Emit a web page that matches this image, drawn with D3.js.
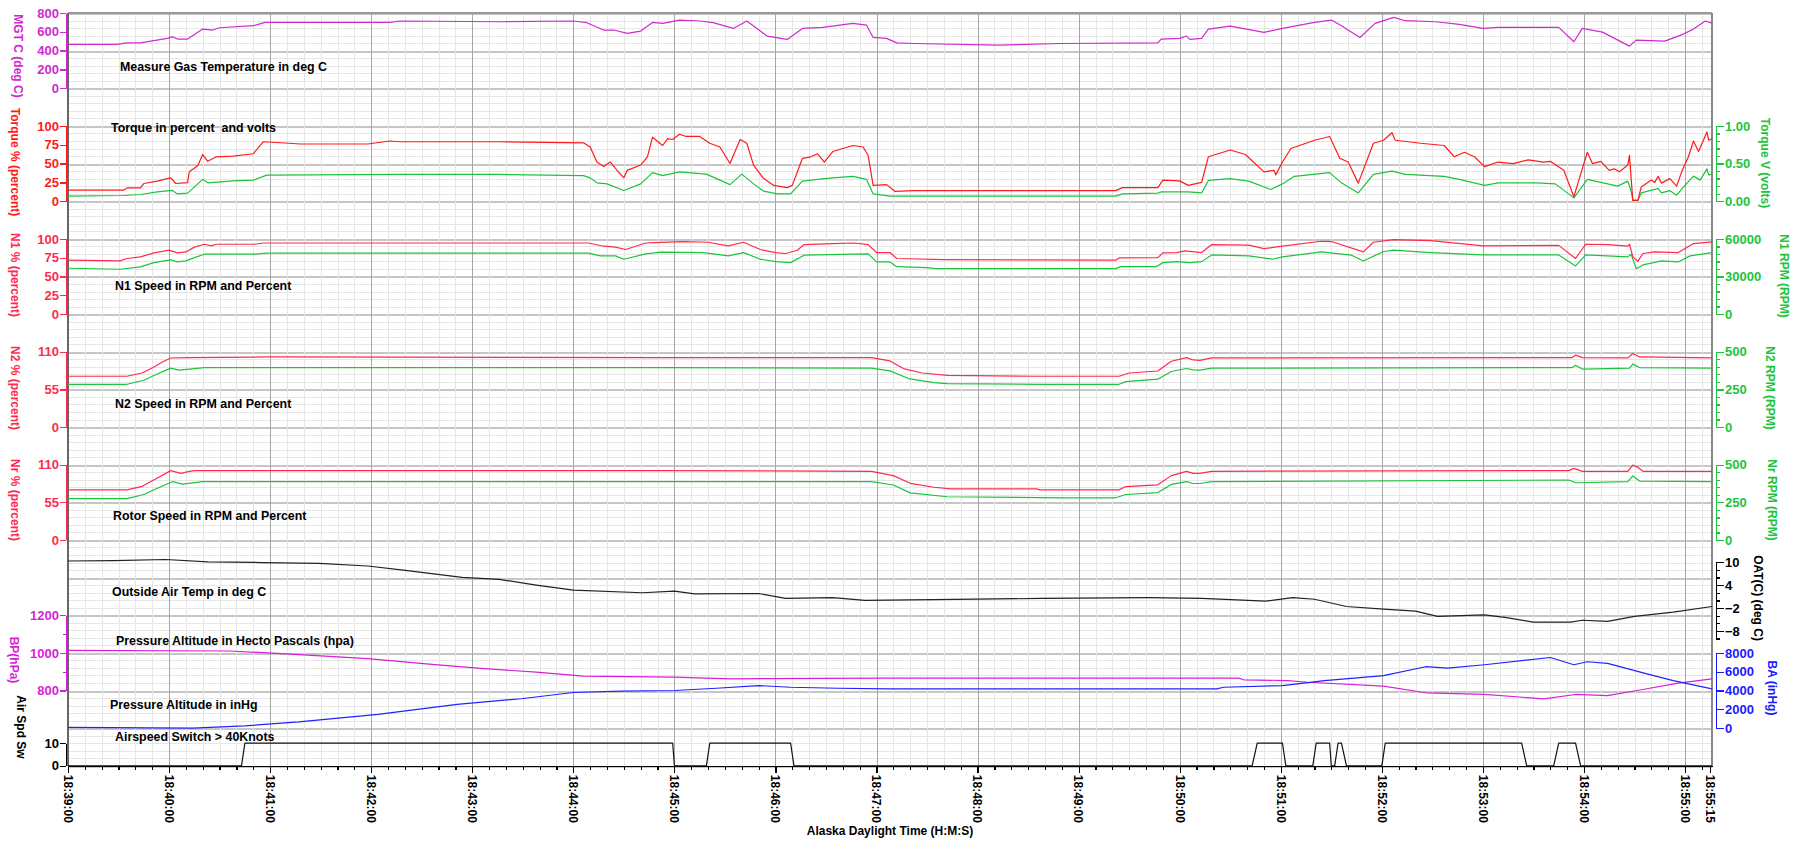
<!DOCTYPE html>
<html>
<head>
<meta charset="utf-8">
<title>Engine trend 18:39 - 18:55</title>
<script src="https://d3js.org/d3.v7.min.js"></script>
<style>
	body { margin: 0; background: #fff; }
	text { font-family: "Liberation Sans", Arial, sans-serif; font-weight: bold; }
	.grid line, .axis line, .axis path, .frame { shape-rendering: crispEdges; }
	.series { fill: none; stroke-width: 1.2; stroke-linejoin: round; }
</style>
</head>
<body>
<svg id="chart"></svg>
<script>
// all series: [seconds after 18:39:00, value]
var mgt = [[0,466],[29,466],[35,483],[43,483],[59,530],[62,547],[65,523],[71,523],[80,629],[86,619],[90,643],[110,665],[117,700],[191,700],[197,715],[256,707],[300,715],[308,697],[318,619],[324,619],[332,583],[340,608],[347,700],[353,690],[363,725],[375,715],[383,697],[395,636],[403,715],[409,636],[415,555],[427,519],[436,636],[448,647],[466,690],[474,672],[478,540],[486,530],[492,483],[502,476],[553,459],[590,476],[647,483],[649,523],[660,530],[664,555],[666,519],[673,530],[677,629],[690,661],[710,594],[721,636],[740,700],[750,725],[756,665],[767,540],[776,690],[787,754],[794,718],[812,707],[826,679],[840,636],[849,647],[885,647],[894,494],[899,636],[911,597],[927,448],[931,512],[948,501],[959,576],[965,629],[972,715],[976,693]];

var torquePct = [[0,14.6],[33,14.6],[35,17.7],[43,17.7],[45,23.5],[53,26.6],[61,31],[64,23.5],[71,24.8],[72,39],[77,47],[80,62],[83,53],[88,59],[98,60],[110,63],[116,79],[124,78],[138,76],[178,76],[191,80],[197,79],[256,79],[306,77.5],[310,72],[314,52],[318,46],[322,52],[326,41],[330,31],[332,41],[340,48],[344,59],[347,85],[353,74],[356,83],[359,82],[363,89],[367,86],[375,86],[381,77],[387,72],[393,50],[399,82],[403,77],[407,48],[413,30],[419,21],[427,18],[430,21],[436,57],[441,59],[445,63],[449,52],[454,66],[466,74],[472,72],[475,61],[478,21],[486,22],[491,13],[502,14],[553,14],[622,14],[626,18],[647,18],[650,28],[660,27],[665,21],[673,25],[677,59],[690,68],[699,62],[710,39],[716,41],[717,35],[721,52],[726,70],[740,81],[749,86],[755,57],[760,52],[766,24],[775,77],[781,81],[786,91],[788,81],[803,77],[817,74],[823,59],[829,65],[835,59],[841,46],[849,52],[858,50],[867,55],[876,52],[880,53],[888,41],[894,6],[902,65],[905,50],[910,53],[915,41],[918,43],[921,39],[926,48],[927,61],[928,30],[929,1],[932,1],[934,19],[940,28],[942,25],[944,33],[946,24],[951,30],[955,20],[958,39],[962,59],[965,80],[968,66],[973,92],[974,81],[976,83]];

var torqueVolt = [[0,0.067],[33,0.076],[43,0.089],[53,0.124],[62,0.143],[65,0.097],[71,0.107],[80,0.29],[83,0.244],[98,0.27],[110,0.28],[118,0.347],[197,0.356],[256,0.356],[306,0.34],[310,0.31],[314,0.244],[320,0.23],[330,0.143],[340,0.23],[347,0.38],[353,0.34],[363,0.39],[379,0.36],[393,0.22],[400,0.36],[407,0.23],[413,0.133],[421,0.097],[429,0.097],[436,0.267],[445,0.29],[454,0.31],[466,0.33],[474,0.29],[478,0.097],[488,0.067],[553,0.067],[622,0.067],[626,0.097],[647,0.107],[649,0.124],[665,0.124],[673,0.11],[677,0.276],[690,0.30],[701,0.267],[714,0.156],[721,0.23],[728,0.33],[749,0.38],[756,0.244],[766,0.11],[775,0.356],[786,0.40],[794,0.356],[817,0.33],[826,0.29],[841,0.21],[849,0.244],[872,0.244],[883,0.23],[894,0.044],[902,0.29],[910,0.25],[920,0.2],[926,0.267],[928,0.133],[929,0.01],[932,0.01],[934,0.11],[942,0.156],[944,0.17],[946,0.11],[951,0.14],[955,0.08],[959,0.187],[965,0.333],[969,0.28],[973,0.43],[974,0.35],[976,0.36]];

var n1Pct = [[0,71.6],[31,70.7],[35,73.9],[43,76],[51,81.3],[60,85],[65,81.3],[70,82.6],[75,89],[81,92.8],[85,90.6],[88,92.8],[111,92.8],[116,94.5],[309,94.5],[318,90.2],[325,89],[331,85.8],[343,94.5],[348,95],[365,96.4],[380,95.5],[392,90.6],[401,95.5],[411,85.8],[420,81.8],[426,80.5],[433,84.9],[437,92.4],[454,93.7],[467,94.5],[475,92.4],[480,81.8],[488,81.8],[492,73.9],[520,72.5],[622,71.6],[624,74.7],[647,75.1],[650,81.3],[658,81.8],[663,84],[673,81.8],[679,92.4],[701,91.7],[710,87.1],[721,90.2],[744,96.8],[750,96.4],[769,82.6],[775,95.5],[787,99],[809,97.7],[840,90.6],[885,91.3],[895,73.9],[901,92.8],[914,92.4],[926,90.2],[927,92.8],[929,76],[932,70.3],[935,80.5],[942,82.6],[956,81.8],[965,93.7],[976,95.9]];

var n1Rpm = [[0,36560],[31,35760],[43,37600],[51,41040],[61,43200],[65,41600],[70,42400],[75,45040],[81,47760],[111,47760],[118,48560],[309,48560],[316,46400],[325,46400],[330,43760],[343,48000],[352,49360],[377,49040],[392,46400],[401,49040],[411,43760],[420,41840],[429,41040],[437,46960],[475,48000],[480,41600],[488,41600],[492,37840],[510,37040],[515,36240],[622,36240],[625,37840],[646,37840],[650,41040],[658,41840],[666,41040],[673,41840],[679,47200],[701,46400],[715,43760],[721,45600],[744,49600],[762,46960],[769,42400],[781,49920],[787,50960],[809,49040],[840,47200],[885,47200],[895,38400],[901,47200],[926,45600],[928,47760],[931,36240],[935,39200],[946,42400],[956,41600],[963,46400],[976,49040]];

var n2Pct = [[0,74.2],[35,74.2],[44,79],[51,87.8],[56,95.1],[61,100.9],[72,101.5],[120,102.4],[352,101.5],[477,101.5],[488,96.6],[496,85.4],[507,79],[522,75.6],[575,74.2],[624,74.2],[630,79],[647,81.9],[655,96.1],[664,101.5],[668,98],[672,97.5],[679,101],[893,101.5],[895,105],[899,101.5],[926,101],[929,107.4],[933,102.4],[976,101]];

var n2Rpm = [[0,284],[35,284],[45,311],[52,347],[61,391],[66,378],[81,395],[352,395],[477,391],[488,373],[499,322],[514,295],[522,289],[577,284],[624,284],[628,302],[647,318],[655,369],[664,389],[668,380],[672,378],[679,391],[893,395],[895,411],[899,385],[927,391],[929,418],[933,395],[976,391]];

var nrPct = [[0,73.2],[35,73.2],[44,78.4],[52,89.2],[61,101.3],[67,97.3],[72,100.3],[75,101.3],[352,101.3],[477,100.3],[490,94],[500,82.8],[514,77],[524,74.6],[575,74.6],[577,73.2],[624,73.2],[628,78],[647,80.5],[655,94],[664,100.3],[668,97.3],[672,97.3],[679,100.3],[891,101.3],[894,104.6],[899,100.3],[926,100.3],[929,109.5],[932,106],[935,100.3],[976,100.3]];

var nrRpm = [[0,275],[35,275],[45,302],[52,338],[62,387],[68,371],[80,387],[352,387],[477,387],[490,365],[500,313],[522,287],[590,280],[622,280],[628,302],[647,315],[655,369],[664,387],[668,375],[672,375],[679,387],[891,398],[895,380],[926,387],[929,425],[933,391],[976,387]];

var oat = [[0,10.3],[27,10.4],[58,10.7],[83,10.1],[115,9.9],[149,9.7],[178,9.0],[199,7.9],[234,6.0],[256,5.5],[278,4.0],[300,2.7],[341,2.0],[360,2.4],[372,1.7],[410,1.8],[426,0.5],[454,0.7],[473,0.0],[514,0.2],[578,0.5],[641,0.7],[673,0.5],[711,-0.2],[727,0.7],[740,0.3],[759,-1.6],[781,-2.3],[800,-2.8],[813,-4.2],[841,-3.8],[854,-4.5],[870,-5.7],[892,-5.7],[899,-5.2],[914,-5.5],[930,-4.2],[953,-3.1],[976,-1.6]];

var baroHpa = [[0,1013],[96,1010],[127,996],[178,969],[216,939],[247,916],[278,898],[306,876],[360,871],[394,862],[482,866],[695,866],[698,857],[724,853],[736,844],[781,823],[806,788],[841,779],[876,756],[895,779],[914,773],[934,804],[956,839],[976,862]];

var baroAlt = [[0,74],[74,0],[105,242],[137,663],[184,1474],[231,2527],[269,3127],[300,3791],[328,3928],[360,4001],[385,4243],[410,4528],[429,4349],[457,4243],[488,4180],[682,4180],[686,4349],[721,4528],[746,5054],[781,5581],[806,6529],[819,6389],[841,6739],[880,7508],[894,6739],[902,7055],[914,6880],[934,5932],[953,5054],[976,4180]];

var airspeedSw = [[0,0],[103,0],[105,10],[359,10],[360,0],[379,0],[381,10],[429,10],[431,0],[703,0],[706,10],[721,10],[723,0],[739,0],[741,10],[749,10],[750,0],[752,0],[754,10],[756,10],[759,0],[780,0],[782,10],[863,10],[866,0],[882,0],[885,10],[895,10],[898,0],[976,0]];

var panelTitles = [
	["Measure Gas Temperature in deg C", 120, 71],
	["Torque in percent  and volts", 111, 132],
	["N1 Speed in RPM and Percent", 115, 290],
	["N2 Speed in RPM and Percent", 115, 408],
	["Rotor Speed in RPM and Percent", 113, 520],
	["Outside Air Temp in deg C", 112, 596],
	["Pressure Altitude in Hecto Pascals (hpa)", 116, 645],
	["Pressure Altitude in inHg", 110, 709],
	["Airspeed Switch > 40Knots", 115, 741]
];

(function () {
	var _width = 1801, _height = 842,
		_left = 68, _right = 1712, _top = 13, _bottom = 765.8,
		_row = (_bottom - _top) / 100,
		_endSec = 976,
		_magenta = '#d02ad0', _red = '#ff1a1a', _nred = '#ff2a4e', _green = '#1cc43c',
		_svg = d3.select('#chart').attr('width', _width).attr('height', _height);

	var _x = d3.scaleLinear([0, _endSec], [_left, _right]);
	function rowY(r) { return _top + r * _row; }

	// grid
	var grid = _svg.append('g').attr('class', 'grid');
	d3.range(0, 101).forEach(function (r) {
		grid.append('line').attr('x1', _left).attr('x2', _right)
			.attr('y1', Math.round(rowY(r)) + 0.5).attr('y2', Math.round(rowY(r)) + 0.5)
			.attr('stroke', r % 5 === 0 ? '#c6c6c6' : '#e6e6e6')
			.attr('stroke-width', r % 5 === 0 ? 2 : 1);
	});
	d3.range(0, _endSec, 10).forEach(function (s) {
		grid.append('line').attr('y1', _top).attr('y2', _bottom)
			.attr('x1', Math.round(_x(s)) + 0.5).attr('x2', Math.round(_x(s)) + 0.5)
			.attr('stroke', s % 60 === 0 ? '#a8a8a8' : '#e6e6e6')
			.attr('stroke-width', 1);
	});

	// frame
	_svg.append('line').attr('class', 'frame').attr('x1', _left).attr('x2', _right).attr('y1', _top).attr('y2', _top).attr('stroke', '#999').attr('stroke-width', 2);
	_svg.append('line').attr('class', 'frame').attr('x1', _right).attr('x2', _right).attr('y1', _top).attr('y2', _bottom).attr('stroke', '#888').attr('stroke-width', 1.5);
	_svg.append('line').attr('class', 'frame').attr('x1', _left).attr('x2', _left).attr('y1', _top).attr('y2', _bottom).attr('stroke', '#666').attr('stroke-width', 1.5);

	// y axes: rows = [top row, bottom row] on the 100 row grid
	var axes = {
		mgt:   {side: 'left',  rows: [0, 10],   domain: [0, 800],   ticks: [0,200,400,600,800], minor: [], color: _magenta, fmt: d3.format('d'), title: 'MGT C (deg C)', tx: 18, ty: 56},
		tqp:   {side: 'left',  rows: [15, 25],  domain: [0, 100],   ticks: [0,25,50,75,100], minor: [], color: _red, fmt: d3.format('d'), title: 'Torque % (percent)', tx: 15, ty: 162},
		tqv:   {side: 'right', rows: [15, 25],  domain: [0, 1],     ticks: [0,0.5,1], minor: d3.range(0, 1.01, 0.1), color: _green, fmt: d3.format('.2f'), title: 'Torque V (volts)', tx: 1765, ty: 163},
		n1p:   {side: 'left',  rows: [30, 40],  domain: [0, 100],   ticks: [0,25,50,75,100], minor: [], color: _nred, fmt: d3.format('d'), title: 'N1 % (percent)', tx: 15, ty: 275},
		n1r:   {side: 'right', rows: [30, 40],  domain: [0, 60000], ticks: [0,30000,60000], minor: d3.range(0, 60001, 6000), color: _green, fmt: d3.format('d'), title: 'N1 RPM (RPM)', tx: 1784, ty: 276},
		n2p:   {side: 'left',  rows: [45, 55],  domain: [0, 110],   ticks: [0,55,110], minor: [], color: _nred, fmt: d3.format('d'), title: 'N2 % (percent)', tx: 15, ty: 388},
		n2r:   {side: 'right', rows: [45, 55],  domain: [0, 500],   ticks: [0,250,500], minor: d3.range(0, 501, 50), color: _green, fmt: d3.format('d'), title: 'N2 RPM (RPM)', tx: 1770, ty: 388},
		nrp:   {side: 'left',  rows: [60, 70],  domain: [0, 110],   ticks: [0,55,110], minor: [], color: _nred, fmt: d3.format('d'), title: 'Nr % (percent)', tx: 15, ty: 500},
		nrr:   {side: 'right', rows: [60, 70],  domain: [0, 500],   ticks: [0,250,500], minor: d3.range(0, 501, 50), color: _green, fmt: d3.format('d'), title: 'Nr RPM (RPM)', tx: 1772, ty: 500},
		oat:   {side: 'right', rows: [72.95, 83.1], domain: [-10, 10], ticks: [10,4,-2,-8], minor: d3.range(-10, 11, 2), color: '#000', fmt: d3.format('d'), title: 'OAT(C) (deg C)', tx: 1758, ty: 598},
		bp:    {side: 'left',  rows: [80, 90],  domain: [800, 1200], ticks: [800,1000,1200], minor: [900,1100], color: '#d81ed8', fmt: d3.format('d'), title: 'BP(hPa)', tx: 14, ty: 660},
		ba:    {side: 'right', rows: [85, 95],  domain: [0, 8000],  ticks: [0,2000,4000,6000,8000], minor: [], color: '#1a1aff', fmt: d3.format('d'), title: 'BA (inHg)', tx: 1772, ty: 688},
		asw:   {side: 'left',  rows: [97, 100], domain: [0, 10],    ticks: [0,10], minor: [], color: '#000', fmt: d3.format('d'), title: 'Air Spd Sw', tx: 21, ty: 727}
	};

	Object.keys(axes).forEach(function (k) {
		var a = axes[k];
		a.scale = d3.scaleLinear(a.domain, [rowY(a.rows[1]), rowY(a.rows[0])]);
		var left = a.side === 'left',
			ax = left ? d3.axisLeft(a.scale) : d3.axisRight(a.scale),
			g = _svg.append('g').attr('class', 'axis')
				.attr('transform', 'translate(' + (left ? 66 : 1716) + ',0)');
		if (a.minor.length) {
			var mx = left ? d3.axisLeft(a.scale) : d3.axisRight(a.scale);
			g.append('g').call(mx.tickValues(a.minor).tickSize(left ? 3 : 4).tickSizeOuter(0).tickFormat(''));
		}
		g.append('g').call(ax.tickValues(a.ticks).tickSize(left ? 6 : 8).tickSizeOuter(0).tickPadding(1).tickFormat(a.fmt));
		g.selectAll('path, line').attr('stroke', a.color).attr('stroke-width', 1.3);
		g.selectAll('text').attr('fill', a.color).style('font-size', '13px')
			.style('font-family', '"Liberation Sans", Arial, sans-serif').style('font-weight', 'bold');
		_svg.append('text')
			.attr('transform', 'translate(' + a.tx + ',' + a.ty + ') rotate(90)')
			.attr('text-anchor', 'middle').attr('dy', '0.35em')
			.attr('fill', a.color).style('font-size', '12px')
			.text(a.title);
	});

	// series
	var series = [
		[mgt, 'mgt', _magenta],
		[torqueVolt, 'tqv', _green],
		[torquePct, 'tqp', _red],
		[n1Rpm, 'n1r', _green],
		[n1Pct, 'n1p', _nred],
		[n2Rpm, 'n2r', _green],
		[n2Pct, 'n2p', _nred],
		[nrRpm, 'nrr', _green],
		[nrPct, 'nrp', _nred],
		[oat, 'oat', '#222'],
		[baroHpa, 'bp', '#d81ed8'],
		[baroAlt, 'ba', '#2222ff'],
		[airspeedSw, 'asw', '#111']
	];
	series.forEach(function (s) {
		var ys = axes[s[1]].scale;
		_svg.append('path').attr('class', 'series')
			.attr('d', d3.line().x(function (d) { return _x(d[0]); }).y(function (d) { return ys(d[1]); })(s[0]))
			.attr('stroke', s[2]);
	});

	// panel titles
	panelTitles.forEach(function (t) {
		_svg.append('text').attr('x', t[1]).attr('y', t[2])
			.style('font-size', '12.4px').style('white-space', 'pre').attr('fill', '#000')
			.text(t[0]);
	});

	// time axis
	var fmtTime = function (s) { return d3.timeFormat('%H:%M:%S')(new Date(2000, 0, 1, 18, 39, s)); };
	var xg = _svg.append('g').attr('class', 'axis').attr('transform', 'translate(0,' + _bottom + ')');
	xg.append('g').call(d3.axisBottom(_x).tickValues(d3.range(0, _endSec, 10)).tickSize(4).tickSizeOuter(0).tickFormat(''));
	xg.append('g').call(d3.axisBottom(_x).tickValues(d3.range(0, _endSec, 60).concat([975])).tickSize(7).tickSizeOuter(0).tickFormat(''));
	xg.selectAll('path, line').attr('stroke', '#000').attr('stroke-width', 1.2);
	d3.range(0, _endSec, 60).concat([975]).forEach(function (s) {
		_svg.append('text')
			.attr('transform', 'translate(' + _x(s) + ',' + (_bottom + 9) + ') rotate(90)')
			.attr('text-anchor', 'start').attr('dy', '0.35em')
			.style('font-size', '12px').attr('fill', '#000')
			.text(fmtTime(s));
	});
	_svg.append('text').attr('x', (_left + _right) / 2).attr('y', 835)
		.attr('text-anchor', 'middle').style('font-size', '12px')
		.text('Alaska Daylight Time (H:M:S)');
}());
</script>
</body>
</html>
